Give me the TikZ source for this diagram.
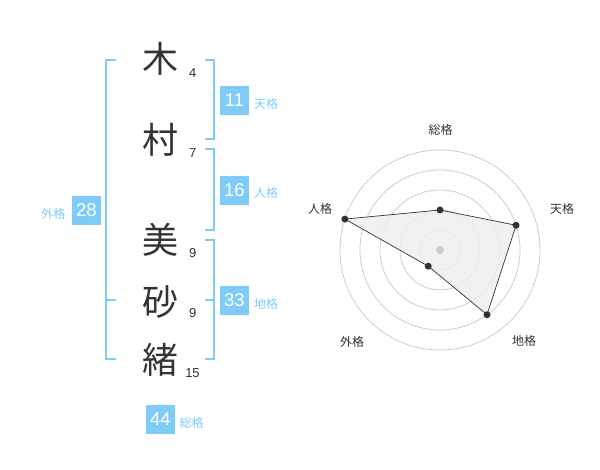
\documentclass[tikz,border=0pt]{standalone}
\usepackage{fontspec}
\setmainfont{Liberation Sans}
\newfontfamily\jp{Noto Sans CJK JP}
\usetikzlibrary{calc}
\definecolor{lblue}{RGB}{128,204,248}
\definecolor{dgray}{RGB}{51,51,51}
\definecolor{cgray}{RGB}{204,204,204}
\definecolor{pfill}{RGB}{238,238,238}
\tikzset{
  kanji/.style={font=\jp\fontsize{36}{36}\selectfont, text=dgray, inner sep=0pt},
  strokes/.style={font=\fontsize{13}{13}\selectfont, text=dgray, inner sep=0pt},
  numbox/.style={fill=lblue, text=white, minimum size=29pt, inner sep=0pt, font=\fontsize{18.5}{18.5}\selectfont},
  kaku/.style={font=\jp\fontsize{12}{12}\selectfont, text=lblue, inner sep=0pt},
  bracket/.style={draw=lblue, line width=2pt},
  ring/.style={draw=cgray, line width=0.8pt},
  rlabel/.style={font=\jp\fontsize{12}{12}\selectfont, text=dgray, inner sep=0pt},
  rdot/.style={fill=dgray, draw=none},
}
\begin{document}
\begin{tikzpicture}[x=1pt,y=-1pt]
\useasboundingbox (0,0) rectangle (600,470);
% name characters
\node[kanji] (k1) at (160.5,59) {木};
\node[kanji] (k2) at (160.5,140) {村};
\node[kanji] (k3) at (160.5,240) {美};
\node[kanji] (k4) at (160.5,302) {砂};
\node[kanji] (k5) at (160.5,360) {緒};
% stroke counts
\node[strokes] (s1) at (192.7,72.7) {4};
\node[strokes] (s2) at (192.7,152.7) {7};
\node[strokes] (s3) at (192.7,252.7) {9};
\node[strokes] (s4) at (192.7,312.7) {9};
\node[strokes] (s5) at (192.5,372.7) {15};
% brackets
\draw[bracket] (116,60) -- (106,60) -- (106,359.3) -- (116,359.3);
\draw[bracket] (106,300) -- (116,300);
\draw[bracket] (205,60) -- (214.3,60) -- (214.3,139.3) -- (205,139.3);
\draw[bracket] (205,149.3) -- (214.3,149.3) -- (214.3,230) -- (205,230);
\draw[bracket] (205,240) -- (214.3,240) -- (214.3,359.3) -- (205,359.3);
\draw[bracket] (214.3,300) -- (205,300);
% number boxes
\node[numbox] (n11) at (234.5,100.5) {11};
\node[numbox] (n16) at (234.5,190.5) {16};
\node[numbox] (n28) at (86.3,210.5) {28};
\node[numbox] (n33) at (234.5,300.5) {33};
\node[numbox] (n44) at (160.5,419.5) {44};
\node[kaku] (t1) at (266,104) {天格};
\node[kaku] (t2) at (266,193) {人格};
\node[kaku] (t3) at (53.3,214) {外格};
\node[kaku] (t4) at (266,304) {地格};
\node[kaku] (t5) at (191.7,422.7) {総格};
% radar chart
\coordinate (c) at (440,250);
\foreach \r in {20,40,60,80,100} \draw[ring] (c) circle (\r pt);
\coordinate (pS) at ($(c)+(-90:40)$);
\coordinate (pT) at ($(c)+(-18:80)$);
\coordinate (pC) at ($(c)+(54:80)$);
\coordinate (pG) at ($(c)+(126:20)$);
\coordinate (pJ) at ($(c)+(198:100)$);
\filldraw[fill=pfill, fill opacity=0.8, draw=dgray, line width=0.7pt] (pS) -- (pT) -- (pC) -- (pG) -- (pJ) -- cycle;
\fill[cgray] (c) circle (4pt);
\foreach \p in {pS,pT,pC,pG,pJ} \fill[rdot] (\p) circle (3.5pt);
\node[rlabel] (l1) at (440.5,130) {総格};
\node[rlabel] (l2) at (562,209) {天格};
\node[rlabel] (l3) at (524,341) {地格};
\node[rlabel] (l4) at (352,342) {外格};
\node[rlabel] (l5) at (320,209) {人格};
\end{tikzpicture}
\end{document}
